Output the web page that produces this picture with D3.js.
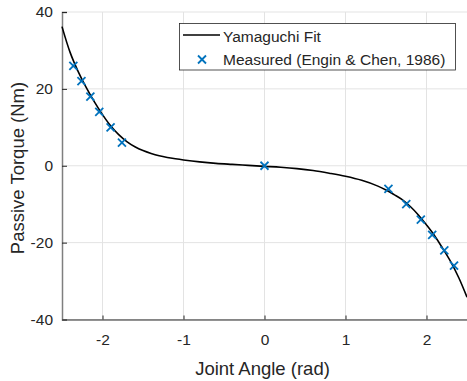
<!DOCTYPE html>
<html>
<head>
<meta charset="utf-8">
<script src="https://d3js.org/d3.v7.min.js"></script>
<style>
  body { margin: 0; background: #fff; }
  text { font-family: "Liberation Sans", Arial, Helvetica, sans-serif; fill: #262626; }
</style>
</head>
<body>
<div id="chart"></div>
<script>
// Yamaguchi fit curve
const fitAngle  = [-2.5, -2.4, -2.3, -2.2, -2.1, -2.0, -1.9, -1.8, -1.7, -1.6, -1.5, -1.4, -1.3, -1.2, -1.1, -1.0, -0.8, -0.6, -0.4, -0.2, 0, 0.2, 0.4, 0.6, 0.8, 1.0, 1.2, 1.4, 1.5, 1.6, 1.7, 1.8, 1.9, 2.0, 2.1, 2.2, 2.3, 2.4, 2.5];
const fitTorque = [36.2, 29.5, 24.5, 20.3, 16.6, 13.3, 10.4, 8.1, 6.3, 4.95, 3.95, 3.2, 2.6, 2.15, 1.8, 1.5, 1.0, 0.62, 0.35, 0.1, -0.15, -0.4, -0.75, -1.25, -1.95, -2.75, -3.8, -5.3, -6.3, -7.5, -8.8, -10.6, -12.8, -15.4, -18.2, -21.5, -25.0, -29.2, -34.2];

// Measured points (Engin & Chen, 1986)
const measAngle  = [-2.36, -2.26, -2.15, -2.04, -1.90, -1.76, 0, 1.53, 1.75, 1.93, 2.07, 2.22, 2.34];
const measTorque = [26, 22, 18, 14, 10, 6, 0, -6, -10, -14, -18, -22, -26];

const xTicks = [-2, -1, 0, 1, 2];
const yTicks = [-40, -20, 0, 20, 40];

const W = 467, H = 381;
const pLeft = 62, pRight = 467, pTop = 12, pBottom = 319.5;

const svg = d3.select('#chart').append('svg')
  .attr('width', W).attr('height', H);

const x = d3.scaleLinear().domain([-2.5, 2.5]).range([pLeft, pRight]);
const y = d3.scaleLinear().domain([-40, 40]).range([pBottom, pTop]);

// grid
const grid = svg.append('g').attr('stroke', '#e3e3e3').attr('stroke-width', 1);
grid.selectAll('.gx').data(xTicks).enter().append('line')
  .attr('x1', d => x(d)).attr('x2', d => x(d)).attr('y1', pTop).attr('y2', pBottom);
grid.selectAll('.gy').data(yTicks).enter().append('line')
  .attr('x1', pLeft).attr('x2', pRight).attr('y1', d => y(d)).attr('y2', d => y(d));

// axes (plain hyphen minus like the original)
const fmt = d => String(d);
const xAxis = d3.axisBottom(x).tickValues(xTicks).tickSize(-4).tickPadding(14).tickFormat(fmt);
const yAxis = d3.axisLeft(y).tickValues(yTicks).tickSize(-5).tickPadding(9).tickFormat(fmt);

const gx = svg.append('g').attr('transform', `translate(0,${pBottom})`).call(xAxis);
const gy = svg.append('g').attr('transform', `translate(${pLeft},0)`).call(yAxis);
[gx, gy].forEach(g => {
  g.selectAll('.domain').attr('stroke', '#262626');
  g.selectAll('.tick line').attr('stroke', '#262626');
  g.selectAll('.tick text').style('font-size', '15.5px').attr('fill', '#262626')
    .style('font-family', '"Liberation Sans", Arial, sans-serif');
});
gy.select('.domain').attr('stroke', '#7f7f7f').attr('stroke-width', 1.5);

// labels
svg.append('text').attr('x', (pLeft + pRight) / 2 - 2).attr('y', 375)
  .attr('text-anchor', 'middle').style('font-size', '18.5px').text('Joint Angle (rad)');
svg.append('text').attr('transform', `translate(24,168) rotate(-90)`)
  .attr('text-anchor', 'middle').style('font-size', '18.5px').text('Passive Torque (Nm)');

// fit line
const fit = fitAngle.map((a, i) => ({a, t: fitTorque[i]}));
const line = d3.line().x(d => x(d.a)).y(d => y(d.t)).curve(d3.curveCatmullRom);
svg.append('path').datum(fit)
  .attr('fill', 'none').attr('stroke', '#000').attr('stroke-width', 1.6)
  .attr('d', line);

// markers
const cross = 4;
const meas = measAngle.map((a, i) => ({a, t: measTorque[i]}));
const mk = svg.append('g').attr('stroke', '#0072BD').attr('stroke-width', 1.8);
meas.forEach(d => {
  const cx = x(d.a), cy = y(d.t);
  mk.append('line').attr('x1', cx - cross).attr('y1', cy - cross).attr('x2', cx + cross).attr('y2', cy + cross);
  mk.append('line').attr('x1', cx - cross).attr('y1', cy + cross).attr('x2', cx + cross).attr('y2', cy - cross);
});

// legend
const lg = svg.append('g');
lg.append('rect').attr('x', 179.5).attr('y', 23.5).attr('width', 276).attr('height', 46.5)
  .attr('fill', '#fff').attr('stroke', '#262626').attr('stroke-width', 0.8);
lg.append('line').attr('x1', 183).attr('x2', 220).attr('y1', 35).attr('y2', 35)
  .attr('stroke', '#000').attr('stroke-width', 1.6);
lg.append('text').attr('x', 223).attr('y', 37).attr('dy', '0.35em').style('font-size', '15.5px').text('Yamaguchi Fit');
const lx = 202, ly = 59.5;
lg.append('line').attr('x1', lx - cross).attr('y1', ly - cross).attr('x2', lx + cross).attr('y2', ly + cross)
  .attr('stroke', '#0072BD').attr('stroke-width', 1.8);
lg.append('line').attr('x1', lx - cross).attr('y1', ly + cross).attr('x2', lx + cross).attr('y2', ly - cross)
  .attr('stroke', '#0072BD').attr('stroke-width', 1.8);
lg.append('text').attr('x', 223).attr('y', 59.5).attr('dy', '0.35em').style('font-size', '15.5px').text('Measured (Engin & Chen, 1986)');
</script>
</body>
</html>
